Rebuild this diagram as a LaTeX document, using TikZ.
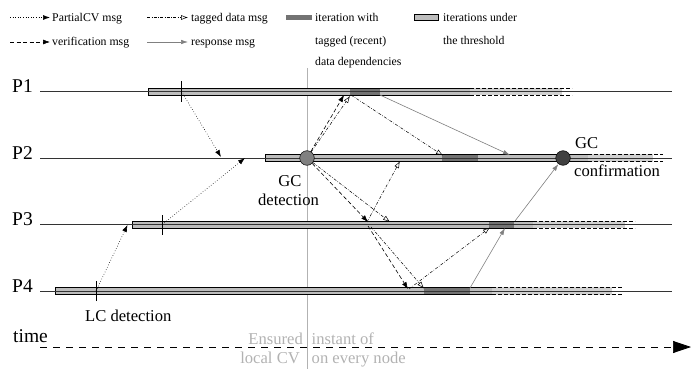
\documentclass[tikz,border=0pt]{standalone}
\usepackage{fontspec}
\setmainfont{Liberation Serif}
\usetikzlibrary{arrows.meta}
\definecolor{barlight}{gray}{0.74}
\definecolor{bardark}{gray}{0.45}
\definecolor{faint}{gray}{0.70}
\newcommand{\drawbar}[6]{% y, start, solid end, dashed end, dark start, dark end
  \fill[barlight] (#2,#1-3.7) rectangle (#3,#1+3.7);
  \fill[barlight!70] (#3,#1-3.7) rectangle (#4-10,#1+3.7);
  \fill[bardark] (#5,#1-3.7) rectangle (#6,#1+3.7);
  \draw[line width=0.5pt] (#3,#1-3.7) -- (#2,#1-3.7) -- (#2,#1+3.7) -- (#3,#1+3.7);
  \draw[line width=0.5pt, dash pattern=on 4pt off 2pt] (#3,#1-3.7) -- (#4,#1-3.7) (#3,#1+3.7) -- (#4,#1+3.7);
}
\begin{document}
\begin{tikzpicture}[x=1pt,y=-1pt,
  proc/.style={draw=black!80, line width=0.6pt},
  pcv/.style={dotted, line width=0.6pt, -{Latex[length=7pt,width=5pt]}},
  ver/.style={dash pattern=on 4pt off 2.5pt, line width=0.6pt, -{Latex[length=7pt,width=5pt]}},
  tag/.style={dash pattern=on 3pt off 1.5pt on 0.6pt off 1.5pt, line width=0.5pt, -{Latex[open,length=7pt,width=5pt]}},
  resp/.style={draw=gray, line width=0.6pt, -{Latex[length=7pt,width=4.5pt]}},
  legtxt/.style={font=\fontsize{11.8}{14}\selectfont, inner sep=0pt, anchor=base west},
  lbl/.style={font=\fontsize{16.6}{19}\selectfont, inner sep=0pt},
  plbl/.style={font=\fontsize{19.5}{22}\selectfont, inner sep=0pt, anchor=base west},
  tickmark/.style={line width=0.7pt},
  gcnode/.style={circle, draw=black, line width=0.5pt, minimum size=14.6pt, inner sep=0pt}
]
\useasboundingbox (0,0) rectangle (691,369);

% ---------- legend ----------
\coordinate (l1a) at (10,17.5);  \coordinate (l1b) at (50,17.5);
\coordinate (l2a) at (10,42);    \coordinate (l2b) at (50,42);
\coordinate (l3a) at (147,17.5); \coordinate (l3b) at (188,17.5);
\coordinate (l4a) at (147,42);   \coordinate (l4b) at (188,42);
\draw[pcv] (l1a) -- (l1b);
\draw[ver] (l2a) -- (l2b);
\draw[tag] (l3a) -- (l3b);
\draw[resp] (l4a) -- (l4b);
\node[legtxt] (t1) at (52,21.5) {PartialCV msg};
\node[legtxt] (t2) at (52,46) {verification msg};
\node[legtxt] (t3) at (191,21.5) {tagged data msg};
\node[legtxt] (t4) at (191,46) {response msg};
\fill[bardark] (286,15) rectangle (312,20);
\node[legtxt] (t5) at (315,21.5) {iteration with};
\node[legtxt] (t6) at (315,44.5) {tagged (recent)};
\node[legtxt] (t7) at (315,66) {data dependencies};
\draw[fill=barlight, line width=0.5pt] (414,14.5) rectangle (438,20.5);
\node[legtxt] (t8) at (443,21.5) {iterations under};
\node[legtxt] (t9) at (443,44.5) {the threshold};

% ---------- vertical instant line ----------
\coordinate (vt) at (307,68); \coordinate (vb) at (307,369);
\draw[faint, line width=0.6pt] (vt) -- (vb);

% ---------- bars ----------
\drawbar{91.5}{148.3}{470}{572}{350}{380}
\drawbar{158}{265}{588}{663}{442}{478}
\drawbar{224.5}{132.3}{533}{635}{489}{514}
\drawbar{291}{55}{492}{622}{424}{470}

% ---------- process lines ----------
\foreach \n/\y in {1/91.5,2/158,3/224.5,4/291}{
  \coordinate (P\n s) at (40,\y);
  \coordinate (P\n e) at (672,\y);
  \draw[proc] (P\n s) -- (P\n e);
}
\node[plbl] (P1) at (12,92.5) {P1};
\node[plbl] (P2) at (12,159) {P2};
\node[plbl] (P3) at (12,225.5) {P3};
\node[plbl] (P4) at (12,292) {P4};

% ticks
\coordinate (k1) at (181.5,91.5);
\coordinate (k3) at (162.3,224.5);
\coordinate (k4) at (96,291);
\foreach \k in {k1,k3,k4}{\draw[tickmark] ([yshift=-10pt]\k) -- ([yshift=10pt]\k);}

% GC circles
\node[gcnode, fill=black!50] (gcd) at (307,158) {};
\node[gcnode, fill=black!75] (gcc) at (563,158) {};

% labels
\node[lbl, anchor=base] (gc1) at (290,186) {GC};
\node[lbl, anchor=base] (gc2) at (288.5,205) {detection};
\node[lbl, anchor=base west] (gc3) at (575,148) {GC};
\node[lbl, anchor=base west] (gc4) at (574,176) {confirmation};
\node[lbl, anchor=base west] (lc) at (85,321) {LC detection};

% ---------- PartialCV messages ----------
\coordinate (m1e) at (221,157);
\coordinate (m2e) at (245,158);
\coordinate (m3e) at (127.5,225);
\draw[pcv] (k1) -- (m1e);
\draw[pcv] (k3) -- (m2e);
\draw[pcv] (k4) -- (m3e);

% ---------- verification messages ----------
\coordinate (v1e) at (344,95);
\coordinate (v2) at (368,222);
\coordinate (v3s) at (368,226);
\coordinate (v3e) at (408,289);
\draw[ver] (gcd) -- (v1e);
\draw[ver] (gcd) -- (v2);
\draw[ver] (v3s) -- (v3e);

% ---------- tagged data messages ----------
\coordinate (a1e) at (350,96);
\coordinate (a2s) at (351,95);
\coordinate (a2e) at (443,155.5);
\coordinate (a3e) at (390,222);
\coordinate (a4s) at (367,222);
\coordinate (a4e) at (400,161);
\coordinate (a5s) at (371,227);
\coordinate (a5e) at (424,288.5);
\coordinate (a6s) at (409,289);
\coordinate (a6e) at (490,227.5);
\draw[tag] (gcd) -- (a1e);
\draw[tag] (a2s) -- (a2e);
\draw[tag] (gcd) -- (a3e);
\draw[tag] (a4s) -- (a4e);
\draw[tag] (a5s) -- (a5e);
\draw[tag] (a6s) -- (a6e);

% ---------- response messages ----------
\coordinate (r1s) at (380,95);
\coordinate (r1e) at (510,155);
\coordinate (r2s) at (470,288);
\coordinate (r2e) at (505,228);
\coordinate (r3s) at (515,221);
\draw[resp] (r1s) -- (r1e);
\draw[resp] (r2s) -- (r2e);
\draw[resp] (r3s) -- (gcc);

% ---------- time axis ----------
\coordinate (ts) at (40,347);
\coordinate (te) at (691,347);
\draw[dash pattern=on 7pt off 6pt, line width=0.7pt, -{Triangle[length=18pt,width=12pt]}] (ts) -- (te);
\node[plbl] (time) at (13,342) {time};
\node[lbl, anchor=base east, text=faint] (e1) at (303,344) {Ensured};
\node[lbl, anchor=base west, text=faint] (e2) at (311.5,344) {instant of};
\node[lbl, anchor=base east, text=faint] (e3) at (300,363) {local CV};
\node[lbl, anchor=base west, text=faint] (e4) at (311.5,363) {on every node};
\end{tikzpicture}
\end{document}
